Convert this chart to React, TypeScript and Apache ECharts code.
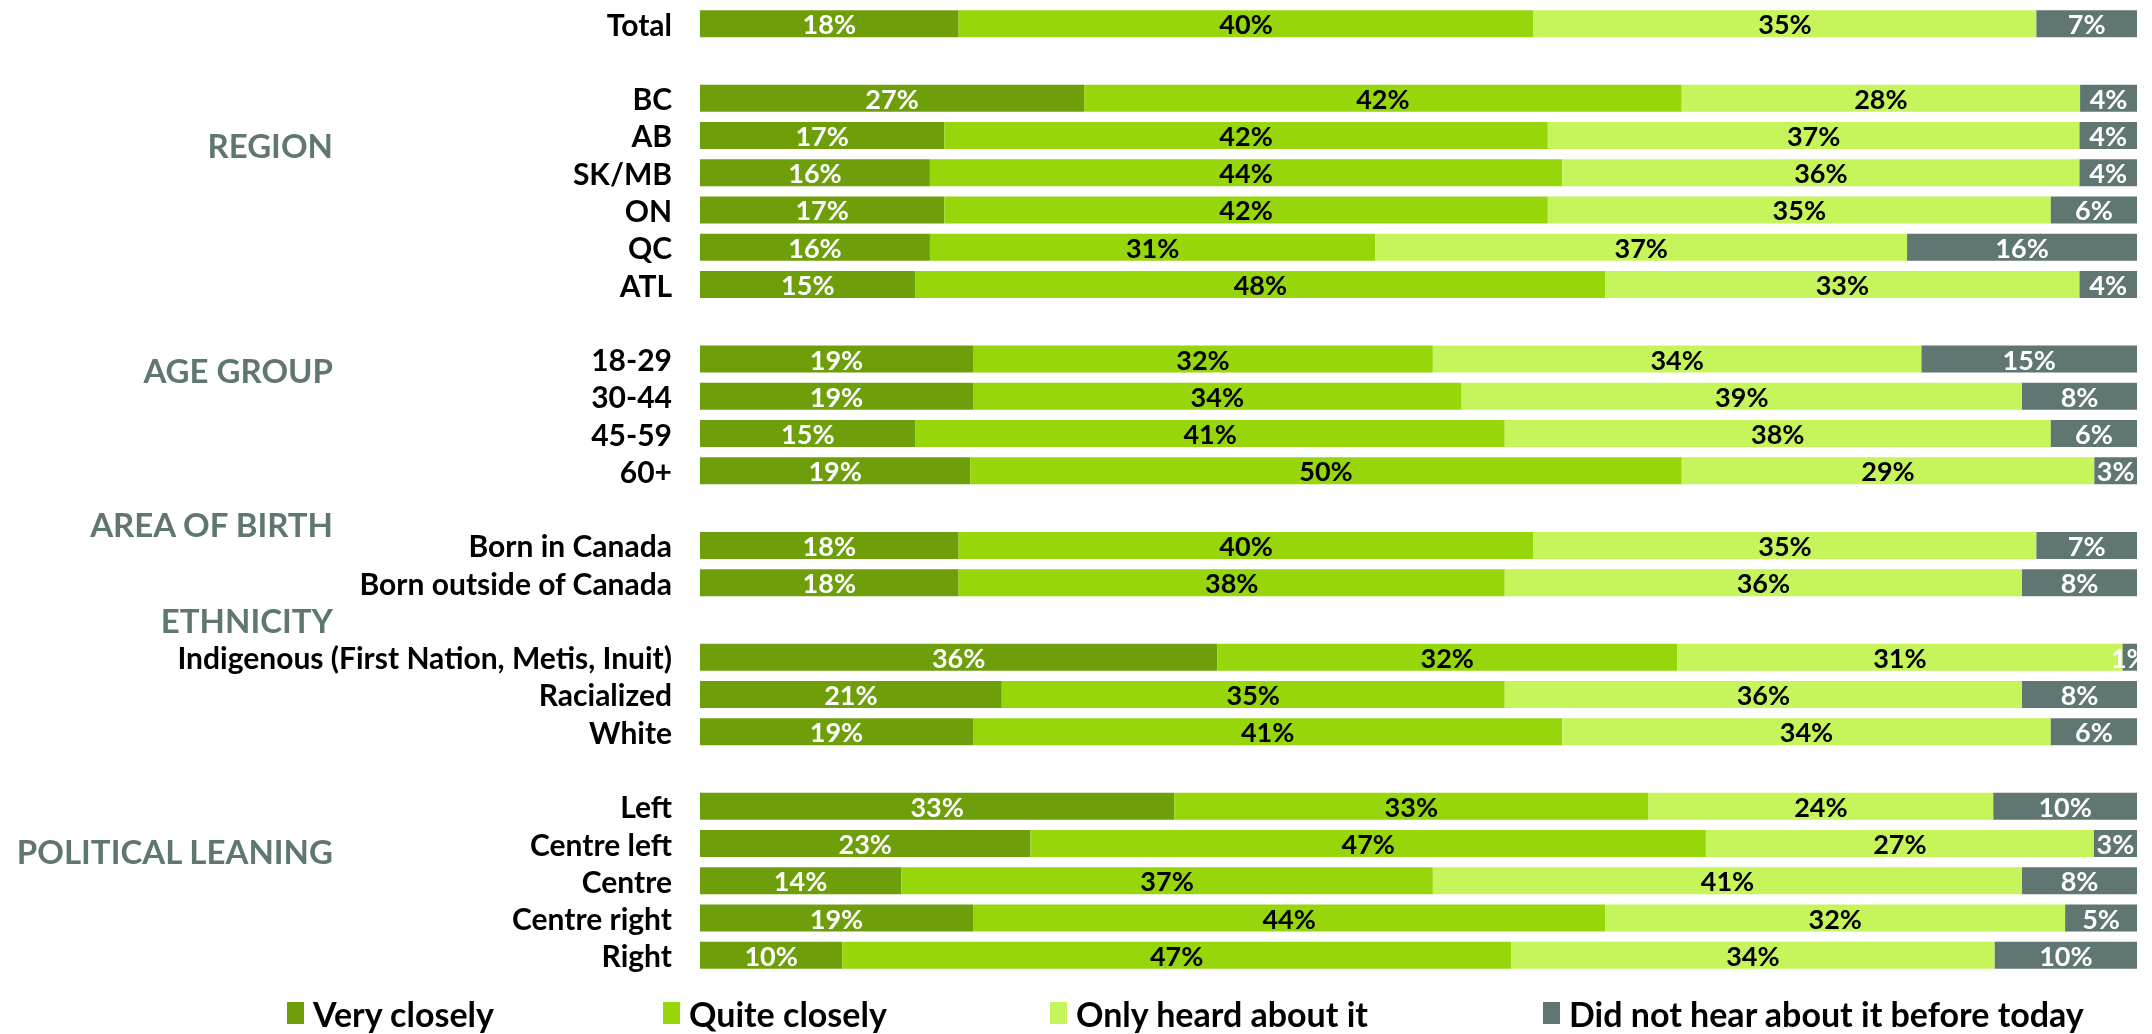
import React, { useEffect, useRef } from "react";
import * as echarts from "echarts";

const categories = [
  "Total", " ",
  "BC", "AB", "SK/MB", "ON", "QC", "ATL", "  ",
  "18-29", "30-44", "45-59", "60+", "   ",
  "Born in Canada", "Born outside of Canada", "    ",
  "Indigenous (First Nation, Metis, Inuit)", "Racialized", "White", "     ",
  "Left", "Centre left", "Centre", "Centre right", "Right",
];

const seriesNames = ["Very closely", "Quite closely", "Only heard about it", "Did not hear about it before today"];

const veryClosely = [18, null, 27, 17, 16, 17, 16, 15, null, 19, 19, 15, 19, null, 18, 18, null, 36, 21, 19, null, 33, 23, 14, 19, 10];
const quiteClosely = [40, null, 42, 42, 44, 42, 31, 48, null, 32, 34, 41, 50, null, 40, 38, null, 32, 35, 41, null, 33, 47, 37, 44, 47];
const onlyHeard = [35, null, 28, 37, 36, 35, 37, 33, null, 34, 39, 38, 29, null, 35, 36, null, 31, 36, 34, null, 24, 27, 41, 32, 34];
const didNotHear = [7, null, 4, 4, 4, 6, 16, 4, null, 15, 8, 6, 3, null, 7, 8, null, 1, 8, 6, null, 10, 3, 8, 5, 10];

const groupHeaders = ["REGION", "AGE GROUP", "AREA OF BIRTH", "ETHNICITY", "POLITICAL LEANING"];

const COLORS = ["#6E9F0A", "#96D60A", "#C6F55B", "#5F7672"];
const LABEL_COLORS = ["#ffffff", "#000000", "#000000", "#ffffff"];
const FONT = "Lato, 'Noto Sans', sans-serif";

export default function App() {
  const ref = useRef<HTMLDivElement>(null);
  useEffect(() => {
    if (!ref.current) return;
    document.body.style.margin = "0";
    const chart = echarts.init(ref.current, null, { renderer: "svg" });
    const raw = [veryClosely, quiteClosely, onlyHeard, didNotHear];
    const sums = categories.map((_, i) => raw.reduce((s, a) => s + (a[i] ?? 0), 0));

    const series = raw.map((arr, k) => ({
      name: seriesNames[k],
      type: "bar",
      stack: "total",
      barWidth: 27,
      itemStyle: { color: COLORS[k] },
      label: {
        show: true,
        position: "inside",
        color: LABEL_COLORS[k],
        fontFamily: FONT,
        fontWeight: "bold",
        fontSize: 27,
        formatter: (p: any) => (arr[p.dataIndex] == null ? "" : arr[p.dataIndex] + "%"),
      },
      data: arr.map((v, i) => (v == null ? "-" : (v / sums[i]) * 100)),
    }));

    const headerY = [145, 370, 524, 620, 851];
    const legendLeft = [287, 663, 1050, 1543];

    chart.setOption({
      animation: false,
      grid: { left: 700, right: 15, top: 5, height: 969 },
      xAxis: { type: "value", min: 0, max: 100, show: false },
      yAxis: {
        type: "category",
        inverse: true,
        data: categories,
        axisLine: { show: false },
        axisTick: { show: false },
        splitLine: { show: false },
        axisLabel: {
          interval: 0,
          margin: 28,
          color: "#000",
          fontFamily: FONT,
          fontWeight: "bold",
          fontSize: 30,
        },
      },
      legend: seriesNames.map((n, k) => ({
        data: [n],
        left: legendLeft[k],
        top: 995,
        padding: 0,
        icon: "rect",
        itemWidth: 17,
        itemHeight: 22,
        selectedMode: false,
        textStyle: { fontFamily: FONT, fontWeight: "bold", fontSize: 34, lineHeight: 36, color: "#000", padding: [0, 0, 0, 4] },
      })),
      graphic: groupHeaders.map((t, i) => ({
        type: "text",
        x: 333,
        y: headerY[i],
        style: {
          text: t,
          textAlign: "right",
          textVerticalAlign: "middle",
          fontFamily: FONT,
          fontWeight: "bold",
          fontSize: 33,
          fill: "#5F7672",
        },
      })),
      series,
    });
    return () => chart.dispose();
  }, []);
  return <div ref={ref} style={{ position: "fixed", left: 0, top: 0, width: 2152, height: 1034 }} />;
}
